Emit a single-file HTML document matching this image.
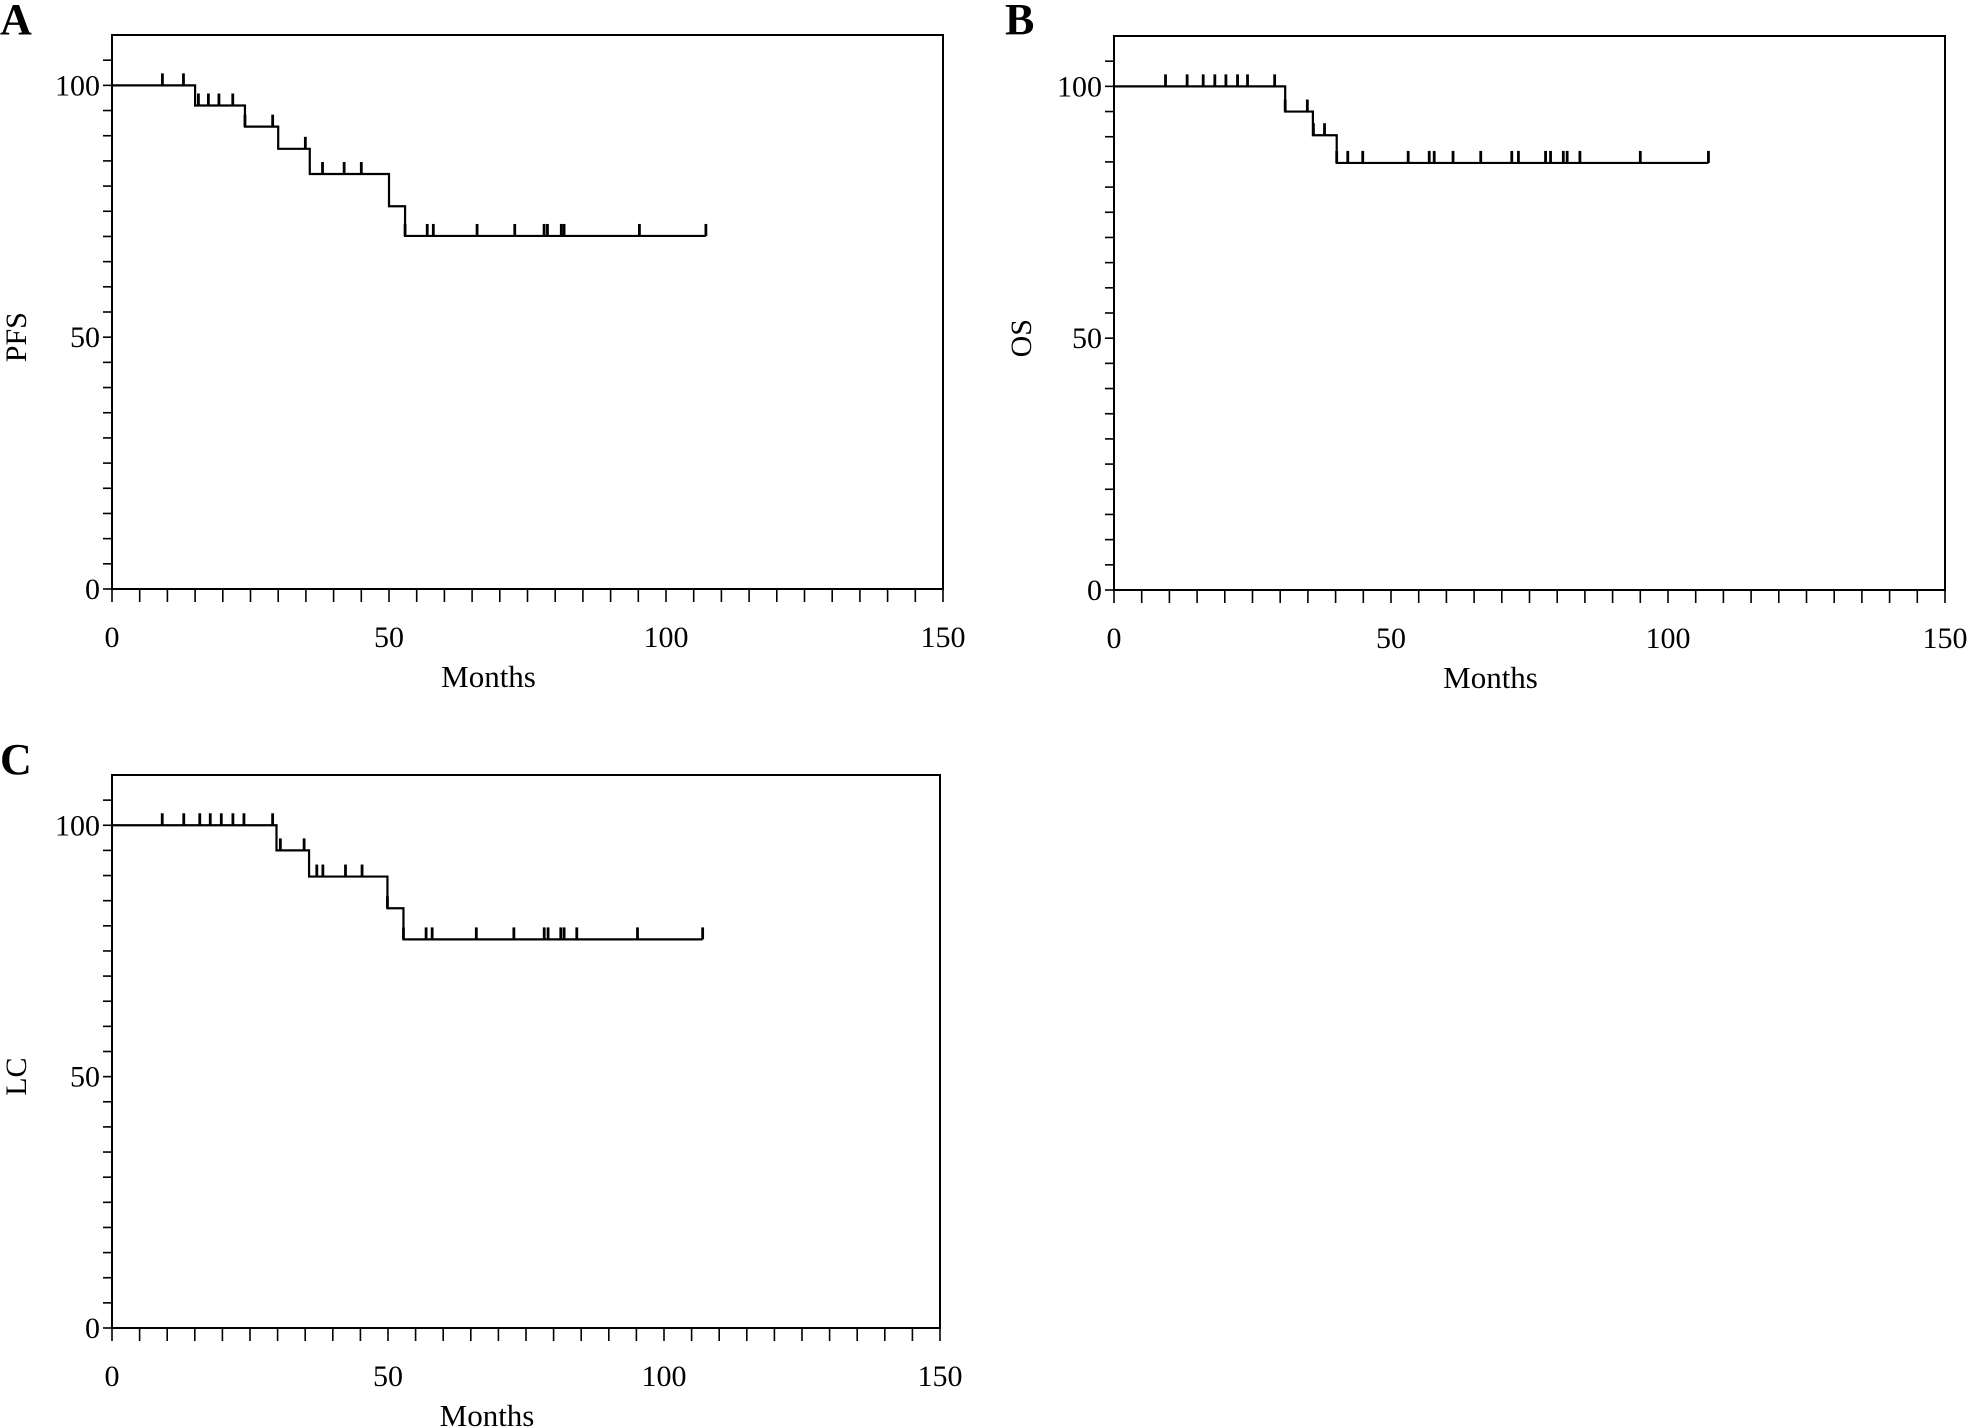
<!DOCTYPE html>
<html><head><meta charset="utf-8"><style>
html,body{margin:0;padding:0;background:#fff;}
svg{display:block;font-family:"Liberation Serif",serif;}
</style></head><body>
<svg id="fig" width="1970" height="1428" viewBox="0 0 1970 1428" xmlns="http://www.w3.org/2000/svg"></svg>
<script>
// Panel A (PFS)
const pfsStepTimes = [0, 15, 24, 30, 35.7, 50, 52.9];
const pfsStepValues = [100, 96, 91.8, 87.4, 82.4, 76, 70.1];
const pfsCensor = [9.1, 12.9, 15.6, 17.4, 19.3, 21.8, 24, 29, 34.9, 38, 41.9, 45, 52.9, 56.9, 58, 65.9, 72.7, 78, 78.6, 81.1, 81.6, 95.2, 107.2];
// Panel B (OS)
const osStepTimes = [0, 30.9, 35.9, 40.2];
const osStepValues = [100, 95, 90.3, 84.8];
const osCensor = [9.3, 13.2, 16.1, 18.2, 20.2, 22.3, 24.1, 29, 30.9, 34.9, 36, 38, 40.2, 42.2, 44.9, 53.1, 56.9, 57.8, 61.2, 66.2, 71.8, 73, 77.9, 78.8, 81.1, 81.8, 84.1, 95, 107.3];
// Panel C (LC)
const lcStepTimes = [0, 29.8, 35.7, 49.9, 52.8];
const lcStepValues = [100, 95, 89.8, 83.5, 77.3];
const lcCensor = [9.1, 13, 15.9, 17.8, 19.8, 21.9, 23.9, 29.1, 30.5, 34.8, 37.1, 38.2, 42.3, 45.3, 49.9, 52.8, 56.9, 58, 66, 72.8, 78.3, 79, 81.3, 81.9, 84.2, 95.2, 107];
const xTickLabels = [0, 50, 100, 150];
const yTickLabels = [0, 50, 100];

const NS = "http://www.w3.org/2000/svg";
const svg = document.getElementById('fig');
function mk(tag, attrs, parent){
  const e = document.createElementNS(NS, tag);
  for (const k in attrs) e.setAttribute(k, attrs[k]);
  (parent||svg).appendChild(e);
  return e;
}
const panels = [
  {id:'a', letter:'A', ytitle:'PFS', L:112, R:943, T:35, B:589, times:pfsStepTimes, vals:pfsStepValues, cens:pfsCensor, lx:0, ly:0},
  {id:'b', letter:'B', ytitle:'OS', L:1114, R:1945, T:36, B:590, times:osStepTimes, vals:osStepValues, cens:osCensor, lx:1005, ly:0},
  {id:'c', letter:'C', ytitle:'LC', L:112, R:940, T:775, B:1328, times:lcStepTimes, vals:lcStepValues, cens:lcCensor, lx:0, ly:740}
];
panels.forEach(p=>{
  const g = mk('g', {});
  
  
  const xs = t => p.L + t/150*(p.R-p.L);
  const ys = v => p.B - v/110*(p.B-p.T);
  const lt = mk('text', {x:p.lx, y:p.ly+34, 'font-size':44, 'font-weight':'bold'}, g);
  lt.textContent = p.letter;
  
  
  const fr = mk('rect', {x:p.L, y:p.T, width:p.R-p.L, height:p.B-p.T, fill:'none', stroke:'#000', 'stroke-width':2}, g);
  
  
  for (let t=0; t<=150; t+=5){
    const tk = mk('line', {x1:xs(t), x2:xs(t), y1:p.B, y2:p.B+13, stroke:'#000', 'stroke-width':1.6}, g);
    
    
  }
  xTickLabels.forEach(v=>{
    const tx = mk('text', {x:xs(v), y:p.B+58, 'font-size':30, 'text-anchor':'middle'}, g);
    tx.textContent = v;
    
    
  });
  const xt = mk('text', {x:(p.L+p.R)/2 - 39, y:p.B+98, 'font-size':31, 'text-anchor':'middle'}, g);
  xt.textContent = 'Months';
  
  
  for (let v=0; v<=105; v+=5){
    const tk = mk('line', {x1:p.L-9, x2:p.L, y1:ys(v), y2:ys(v), stroke:'#000', 'stroke-width':1.6}, g);
    
    
  }
  yTickLabels.forEach(v=>{
    const ty = mk('text', {x:p.L-12, y:ys(v)+10, 'font-size':30, 'text-anchor':'end'}, g);
    ty.textContent = v;
    
    
  });
  const yt = mk('text', {x:0, y:0, 'font-size':30, 'text-anchor':'middle', transform:'translate('+(p.lx+26)+','+ys(50)+') rotate(-90)'}, g);
  yt.textContent = p.ytitle;
  
  
  const tEnd = p.cens[p.cens.length-1];
  let d = 'M' + xs(0) + ',' + ys(p.vals[0]);
  for (let i=1;i<p.times.length;i++){
    d += ' H' + xs(p.times[i]) + ' V' + ys(p.vals[i]);
  }
  d += ' H' + xs(tEnd);
  const cv = mk('path', {d:d, fill:'none', stroke:'#000', 'stroke-width':2.2}, g);
  
  
  p.cens.forEach(t=>{
    let v = p.vals[0];
    for (let i=0;i<p.times.length;i++) if (p.times[i] <= t) v = p.vals[i];
    const cm = mk('line', {x1:xs(t), x2:xs(t), y1:ys(v), y2:ys(v)-12, stroke:'#000', 'stroke-width':2.8}, g);
    
    
  });
});
</script>
</body></html>
